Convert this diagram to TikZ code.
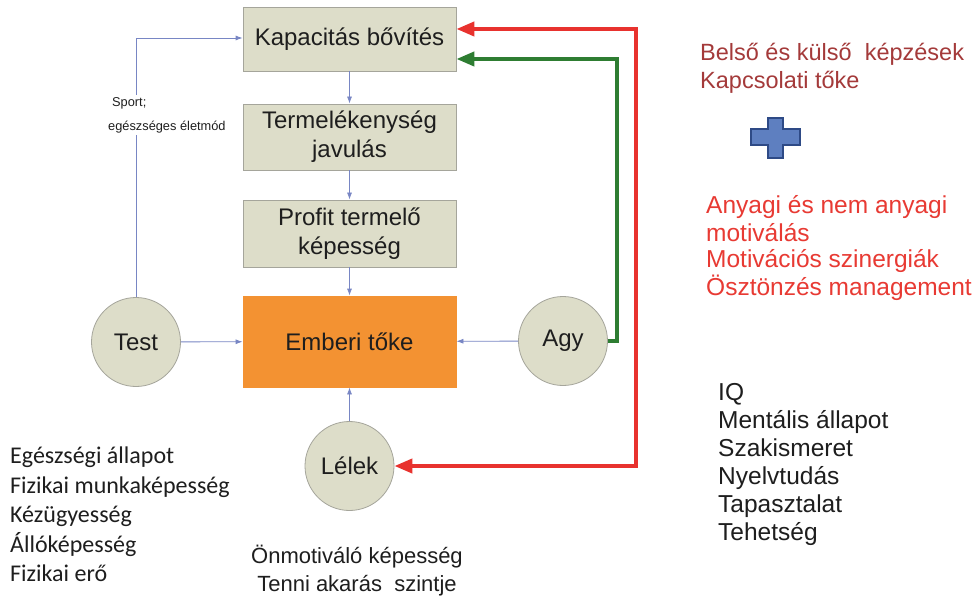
\documentclass[tikz,border=0pt]{standalone}
\usepackage{fontspec}
\setmainfont{Liberation Sans}
\newfontfamily\calib{Carlito}
\usetikzlibrary{arrows.meta,calc}
\definecolor{boxfill}{RGB}{221,221,201}
\definecolor{boxline}{RGB}{165,165,155}
\definecolor{orangefill}{RGB}{243,146,50}
\definecolor{conn}{RGB}{120,134,196}
\definecolor{redarrow}{RGB}{232,50,46}
\definecolor{greenarrow}{RGB}{46,125,50}
\definecolor{darkredtext}{RGB}{164,58,58}
\definecolor{redtext}{RGB}{232,58,51}
\definecolor{plusfill}{RGB}{94,127,192}
\definecolor{plusline}{RGB}{46,74,134}
\definecolor{textgray}{RGB}{30,30,30}
\begin{document}
\begin{tikzpicture}[x=1pt,y=-1pt,
  box/.style={draw=boxline, fill=boxfill, line width=0.8pt, minimum width=213pt,
    inner sep=0pt, align=center, text=textgray, font=\fontsize{24}{29}\selectfont},
  circ/.style={circle, draw=boxline, fill=boxfill, line width=0.8pt, inner sep=0pt,
    minimum size=89pt, text=textgray, font=\fontsize{24}{29}\selectfont},
  thinarrow/.style={draw=conn, line width=0.8pt, -{Latex[length=7pt,width=5pt]}},
  bigarrow/.style={line width=4pt, line join=miter},
  txt/.style={anchor=base west, inner sep=0pt},
]
\useasboundingbox (0,0) rectangle (980,596);
\fill[white] (0,0) rectangle (980,596);

% boxes
\node[box, minimum height=64pt] (kap) at (349.5,39) {Kapacitás bővítés};
\node[box, minimum height=66pt] (ter) at (349.5,137) {Termelékenység\\javulás};
\node[box, minimum height=67pt] (pro) at (349.5,233.5) {Profit termelő\\képesség};
\node[box, minimum height=91pt, fill=orangefill, draw=orangefill] (emb) at (349.5,341.5) {Emberi tőke};

% circles
\node[circ] (test) at (136,342) {Test};
\node[circ] (agy) at (563,341) {Agy};
\node[circ] (lel) at (349.5,466) {Lélek};

% thin connectors
\draw[thinarrow] (kap) -- (ter);
\draw[thinarrow] (ter) -- (pro);
\draw[thinarrow] (pro) -- (emb);
\draw[thinarrow] (test) -- (emb);
\draw[thinarrow] (agy) -- (emb);
\draw[thinarrow] (lel) -- (emb);
\coordinate (sportcorner) at (136,38);
\draw[thinarrow] (test.north) -- (sportcorner) -- (kap.west |- sportcorner);
\node[fill=white, inner sep=2pt, align=left, anchor=west, text=textgray,
  font=\fontsize{12.8}{24}\selectfont] (sport) at (106,115) {\hspace*{4pt}Sport;\\egészséges életmód};

% thick feedback arrows
\coordinate (redtop) at (636,29);
\coordinate (redbot) at (636,466);
\draw[bigarrow, draw=redarrow,
  {Triangle[length=18pt,width=14pt,fill=redarrow]}-{Triangle[length=18pt,width=14pt,fill=redarrow]}]
  (lel.east) -- (redbot) -- (redtop) -- (kap.east |- redtop);
\coordinate (greenbot) at (617,341);
\coordinate (greentop) at (617,59);
\draw[bigarrow, draw=greenarrow, -{Triangle[length=18pt,width=14pt,fill=greenarrow]}]
  (agy.east) -- (greenbot) -- (greentop) -- (kap.east |- greentop);

% plus sign
\draw[fill=plusfill, draw=plusline, line width=1.5pt]
  (768,118) -- (783,118) -- (783,129) -- (800,129) -- (800,145) -- (783,145)
  -- (783,158) -- (768,158) -- (768,145) -- (751,145) -- (751,129) -- (768,129) -- cycle;

% text blocks
\node[txt, text=darkredtext, font=\fontsize{23.5}{28}\selectfont] (b1) at (700,61) {Belső és külső\ \ képzések};
\node[txt, text=darkredtext, font=\fontsize{23.5}{28}\selectfont] (b2) at (700,89) {Kapcsolati tőke};

\node[txt, text=redtext, font=\fontsize{24.5}{28}\selectfont] (r1) at (706,214) {Anyagi és nem anyagi};
\node[txt, text=redtext, font=\fontsize{24.5}{28}\selectfont] (r2) at (706,241) {motiválás};
\node[txt, text=redtext, font=\fontsize{24.5}{28}\selectfont] (r3) at (706,268) {Motivációs szinergiák};
\node[txt, text=redtext, font=\fontsize{24.5}{28}\selectfont] (r4) at (706,295) {Ösztönzés management};

\node[txt, text=textgray, font=\fontsize{24.5}{28}\selectfont] (i1) at (718,400) {IQ};
\node[txt, text=textgray, font=\fontsize{24.5}{28}\selectfont] (i2) at (718,428) {Mentális állapot};
\node[txt, text=textgray, font=\fontsize{24.5}{28}\selectfont] (i3) at (718,456) {Szakismeret};
\node[txt, text=textgray, font=\fontsize{24.5}{28}\selectfont] (i4) at (718,484) {Nyelvtudás};
\node[txt, text=textgray, font=\fontsize{24.5}{28}\selectfont] (i5) at (718,512) {Tapasztalat};
\node[txt, text=textgray, font=\fontsize{24.5}{28}\selectfont] (i6) at (718,540) {Tehetség};

\node[txt, text=textgray, font=\calib\fontsize{24}{29}\selectfont] (l1) at (10,463) {Egészségi állapot};
\node[txt, text=textgray, font=\calib\fontsize{24}{29}\selectfont] (l2) at (10,493) {Fizikai munkaképesség};
\node[txt, text=textgray, font=\calib\fontsize{24}{29}\selectfont] (l3) at (10,522) {Kézügyesség};
\node[txt, text=textgray, font=\calib\fontsize{24}{29}\selectfont] (l4) at (10,552) {Állóképesség};
\node[txt, text=textgray, font=\calib\fontsize{24}{29}\selectfont] (l5) at (10,581) {Fizikai erő};

\node[anchor=base, inner sep=0pt, text=textgray, font=\fontsize{22}{28}\selectfont] (o1) at (357,563) {Önmotiváló képesség};
\node[anchor=base, inner sep=0pt, text=textgray, font=\fontsize{22}{28}\selectfont] (o2) at (357,591) {Tenni akarás\ \ szintje};
\end{tikzpicture}
\end{document}
